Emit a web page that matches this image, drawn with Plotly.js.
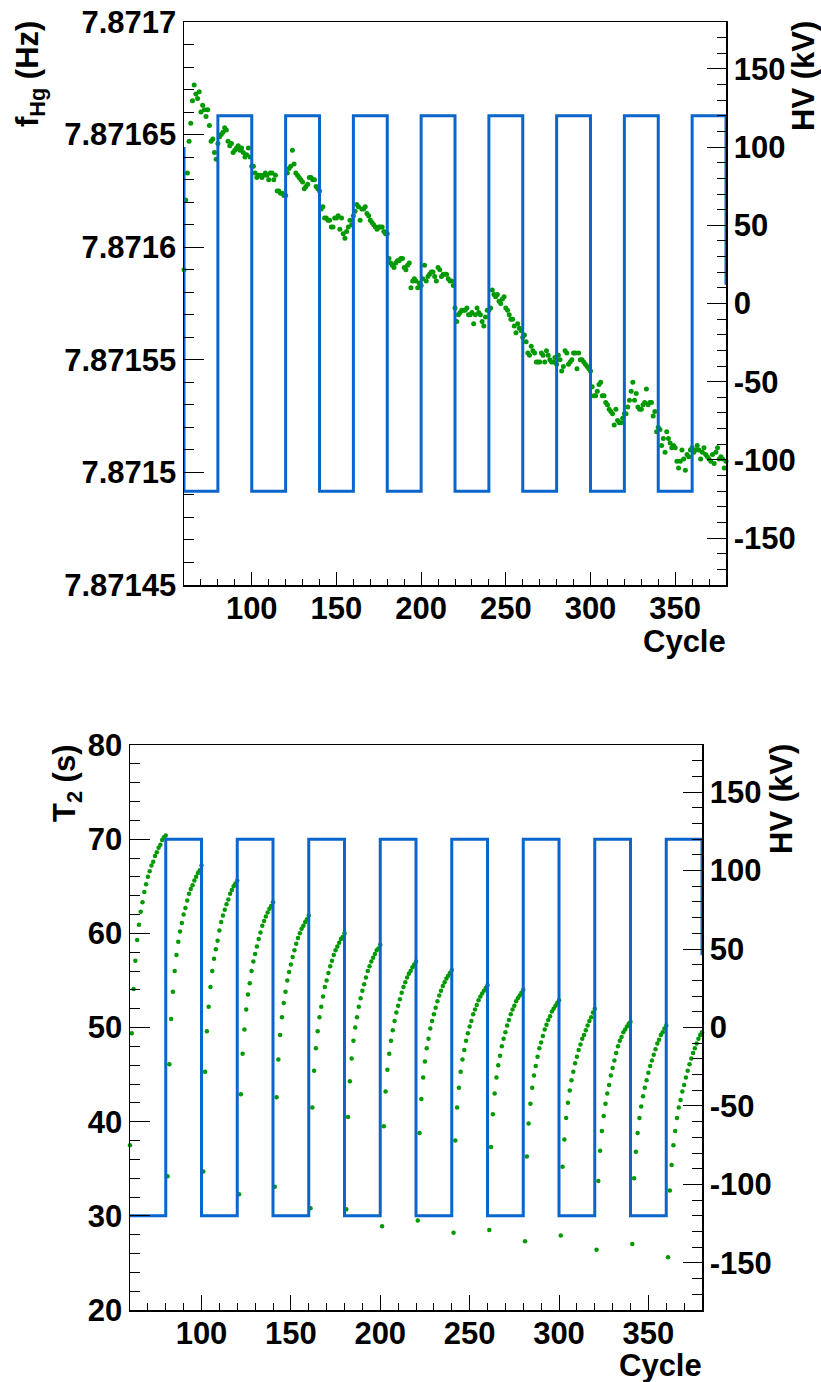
<!DOCTYPE html>
<html>
<head>
<meta charset="utf-8">
<script src="https://cdn.plot.ly/plotly-3.0.1.min.js"></script>
<style>html,body{margin:0;padding:0;background:#fff;}#chart{width:821px;height:1382px;}</style>
</head>
<body>
<div id="chart"></div>
<script>
// ---- data ----
const cycles = [
60,61,62,63,64,65,66,67,68,69,70,71,72,73,74,75,76,77,78,79,80,
81,82,83,84,85,86,87,88,89,90,91,92,93,94,95,96,97,98,99,100,
101,102,103,104,105,106,107,108,109,110,111,112,113,114,115,116,117,118,119,120,
121,122,123,124,125,126,127,128,129,130,131,132,133,134,135,136,137,138,139,140,
141,142,143,144,145,146,147,148,149,150,151,152,153,154,155,156,157,158,159,160,
161,162,163,164,165,166,167,168,169,170,171,172,173,174,175,176,177,178,179,180,
181,182,183,184,185,186,187,188,189,190,191,192,193,194,195,196,197,198,199,200,
201,202,203,204,205,206,207,208,209,210,211,212,213,214,215,216,217,218,219,220,
221,222,223,224,225,226,227,228,229,230,231,232,233,234,235,236,237,238,239,240,
241,242,243,244,245,246,247,248,249,250,251,252,253,254,255,256,257,258,259,260,
261,262,263,264,265,266,267,268,269,270,271,272,273,274,275,276,277,278,279,280,
281,282,283,284,285,286,287,288,289,290,291,292,293,294,295,296,297,298,299,300,
301,302,303,304,305,306,307,308,309,310,311,312,313,314,315,316,317,318,319,320,
321,322,323,324,325,326,327,328,329,330,331,332,333,334,335,336,337,338,339,340,
341,342,343,344,345,346,347,348,349,350,351,352,353,354,355,356,357,358,359,360,
361,362,363,364,365,366,367,368,369,370,371,372,373,374,375,376,377,378,379,380];

const fHg = [
7.871590,7.871621,7.871633,7.871647,7.871655,7.871665,7.871672,7.871668,7.871666,7.871669,
7.871660,7.871663,7.871661,7.871658,7.871661,7.871654,7.871647,7.871648,7.871642,7.871639,
7.871646,7.871649,7.871650,7.871651,7.871653,7.871652,7.871647,7.871645,7.871646,7.871642,
7.871643,7.871644,7.871645,7.871643,7.871644,7.871642,7.871640,7.871641,7.871644,7.871640,
7.871636,7.871636,7.871633,7.871631,7.871632,7.871632,7.871631,7.871632,7.871633,7.871632,
7.871630,7.871633,7.871633,7.871630,7.871632,7.871625,7.871625,7.871624,7.871624,7.871623,
7.871623,7.871633,7.871635,7.871636,7.871643,7.871637,7.871633,7.871632,7.871631,7.871630,
7.871629,7.871626,7.871627,7.871628,7.871631,7.871631,7.871630,7.871630,7.871627,7.871626,
7.871625,7.871617,7.871618,7.871613,7.871613,7.871612,7.871612,7.871609,7.871609,7.871613,
7.871613,7.871614,7.871608,7.871613,7.871606,7.871604,7.871607,7.871609,7.871612,7.871610,
7.871614,7.871616,7.871619,7.871618,7.871612,7.871617,7.871617,7.871618,7.871615,7.871614,
7.871612,7.871611,7.871610,7.871609,7.871608,7.871609,7.871609,7.871609,7.871607,7.871606,
7.871606,7.871595,7.871593,7.871592,7.871591,7.871593,7.871594,7.871594,7.871595,7.871595,
7.871591,7.871590,7.871592,7.871593,7.871582,7.871585,7.871586,7.871585,7.871582,7.871584,
7.871583,7.871586,7.871592,7.871585,7.871587,7.871588,7.871589,7.871589,7.871587,7.871585,
7.871591,7.871590,7.871587,7.871588,7.871588,7.871588,7.871586,7.871585,7.871585,7.871583,
7.871573,7.871567,7.871570,7.871571,7.871572,7.871572,7.871572,7.871573,7.871570,7.871570,
7.871571,7.871566,7.871570,7.871573,7.871571,7.871570,7.871567,7.871565,7.871569,7.871572,
7.871572,7.871573,7.871581,7.871579,7.871578,7.871579,7.871576,7.871575,7.871577,7.871578,
7.871573,7.871572,7.871570,7.871568,7.871568,7.871565,7.871562,7.871566,7.871564,7.871563,
7.871560,7.871561,7.871558,7.871553,7.871552,7.871556,7.871554,7.871553,7.871549,7.871549,
7.871549,7.871553,7.871552,7.871549,7.871554,7.871552,7.871550,7.871549,7.871549,7.871551,
7.871548,7.871552,7.871550,7.871545,7.871547,7.871554,7.871553,7.871548,7.871549,7.871550,
7.871553,7.871553,7.871546,7.871553,7.871550,7.871550,7.871549,7.871548,7.871547,7.871546,
7.871545,7.871538,7.871534,7.871534,7.871536,7.871539,7.871540,7.871534,7.871534,7.871531,
7.871530,7.871528,7.871527,7.871526,7.871521,7.871528,7.871523,7.871522,7.871522,7.871524,
7.871526,7.871526,7.871529,7.871532,7.871536,7.871540,7.871532,7.871535,7.871529,7.871528,
7.871528,7.871530,7.871531,7.871537,7.871530,7.871531,7.871531,7.871525,7.871527,7.871518,
7.871520,7.871519,7.871512,7.871515,7.871509,7.871518,7.871515,7.871513,7.871511,7.871512,
7.871511,7.871505,7.871502,7.871505,7.871510,7.871506,7.871501,7.871508,7.871507,7.871510,
7.871511,7.871509,7.871510,7.871512,7.871510,7.871506,7.871509,7.871511,7.871508,7.871507,
7.871506,7.871505,7.871508,7.871504,7.871509,7.871511,7.871506,7.871507,7.871506,7.871502,
7.871505];

const t2 = [
37.5,49.4,54.1,57.1,59.3,60.9,62.3,63.3,64.4,65.2,
66.0,66.6,67.2,67.6,68.2,68.6,69.1,69.4,69.9,70.2,
70.4,
34.2,46.1,50.9,53.8,56.0,57.7,59.1,60.2,61.1,62.0,
62.7,63.5,64.2,64.7,65.1,65.6,66.0,66.4,66.7,67.2,
34.7,45.3,49.6,52.2,54.3,56.0,57.3,58.3,59.2,60.3,
61.2,61.9,62.5,63.1,63.6,64.2,64.6,65.0,65.3,65.6,
32.3,42.9,47.2,49.8,51.9,53.5,54.7,56.0,57.0,57.8,
58.6,59.4,60.1,60.8,61.3,61.8,62.2,62.6,62.9,63.3,
33.1,42.6,46.6,49.2,51.1,52.6,53.8,55.0,55.9,56.7,
57.5,58.2,58.9,59.5,60.0,60.5,60.8,61.2,61.5,61.9,
30.8,41.5,45.4,47.8,49.6,51.1,52.2,53.3,54.3,55.0,
55.8,56.5,57.1,57.7,58.2,58.6,59.0,59.4,59.6,60.0,
30.7,40.5,44.3,46.7,48.6,50.0,51.1,52.2,53.1,53.9,
54.6,55.3,56.0,56.5,57.0,57.4,57.8,58.2,58.4,58.8,
28.9,39.5,43.2,45.5,47.2,48.6,49.7,50.7,51.6,52.3,
53.0,53.7,54.3,54.8,55.3,55.7,56.0,56.4,56.7,57.0,
29.5,38.8,42.4,44.7,46.4,47.8,48.8,49.9,50.7,51.4,
52.1,52.8,53.4,53.9,54.4,54.8,55.2,55.5,55.8,56.1,
28.2,38.0,41.5,43.6,45.3,46.6,47.6,48.6,49.4,50.1,
50.7,51.4,51.9,52.4,52.9,53.3,53.6,53.9,54.2,54.5,
28.5,37.3,40.8,43.0,44.7,46.0,47.0,48.0,48.8,49.5,
50.2,50.8,51.4,51.9,52.3,52.8,53.1,53.4,53.7,54.0,
27.3,36.3,39.8,41.9,43.6,44.9,45.9,46.9,47.8,48.4,
49.1,49.8,50.3,50.8,51.2,51.7,52.0,52.3,52.6,52.9,
27.9,35.2,38.1,40.4,42.0,43.3,44.4,45.3,46.2,46.9,
47.6,48.2,48.8,49.2,49.7,50.2,50.7,51.1,51.6,52.0,
26.4,33.7,36.9,39.0,40.6,41.9,43.0,43.9,44.9,45.7,
46.5,47.3,48.0,48.6,49.0,49.5,49.8,50.1,50.4,50.6,
27.0,34.0,36.8,38.8,40.4,41.6,42.7,43.6,44.4,45.2,
45.9,46.5,47.1,47.7,48.3,48.7,49.2,49.5,49.9,50.2,
25.6,32.7,35.4,37.5,39.0,40.4,41.5,42.3,43.2,43.9,
44.7,45.4,46.1,46.7,47.3,47.8,48.3,48.8,49.2,49.5];

// HV step curves (value holds from a cycle until the next listed cycle)
const hvTopCycle = [60,60,80,100,120,140,160,180,200,220,240,260,280,300,320,340,360,380];
const hvTopValue = [100,-120,120,-120,120,-120,120,-120,120,-120,120,-120,120,-120,120,-120,120,12];
const hvBotCycle = [60,80,100,120,140,160,180,200,220,240,260,280,300,320,340,360,380];
const hvBotValue = [-120,120,-120,120,-120,120,-120,120,-120,120,-120,120,-120,120,-120,120,46];

// tick labels of the HV axes (plain hyphen minus, as in the original)
const hvTickVals = [-150,-100,-50,0,50,100,150];
const hvTickText = ['-150','-100','-50','0','50','100','150'];

// ---- style ----
const GREEN = '#009a00';
const BLUE = '#0a66cc';
const FONT = 'Liberation Sans, Arial, Helvetica, sans-serif';
const W = 821, H = 1382;
const tf = {family: FONT, size: 31, color: '#000', weight: 'bold'};

function px(v){return v / W;}
function py(v){return 1 - v / H;}

const commonAxis = {
  showgrid: false, zeroline: false, showline: true, linecolor: '#000', linewidth: 1.5,
  ticks: 'inside', tickcolor: '#000', tickwidth: 1, tickfont: tf
};

const traces = [
  {x: cycles, y: fHg, xaxis: 'x', yaxis: 'y', type: 'scatter', mode: 'markers',
   marker: {size: 5, color: GREEN}, cliponaxis: false, hoverinfo: 'skip'},
  {x: hvTopCycle, y: hvTopValue, xaxis: 'x', yaxis: 'y3', type: 'scatter', mode: 'lines',
   line: {shape: 'hv', width: 3, color: BLUE}, hoverinfo: 'skip'},
  {x: cycles, y: t2, xaxis: 'x2', yaxis: 'y2', type: 'scatter', mode: 'markers',
   marker: {size: 4.5, color: GREEN}, cliponaxis: false, hoverinfo: 'skip'},
  {x: hvBotCycle, y: hvBotValue, xaxis: 'x2', yaxis: 'y4', type: 'scatter', mode: 'lines',
   line: {shape: 'hv', width: 3, color: BLUE}, hoverinfo: 'skip'}
];

const layout = {
  width: W, height: H, margin: {l: 0, r: 0, t: 0, b: 0},
  paper_bgcolor: '#fff', plot_bgcolor: 'rgba(0,0,0,0)', showlegend: false,
  font: {family: FONT, size: 31, color: '#000'},
  xaxis: Object.assign({}, commonAxis, {
    domain: [px(184), px(726)], range: [60, 380], anchor: 'y', mirror: true,
    tick0: 0, dtick: 50, ticklen: 13, ticklabelstandoff: -5,
    minor: {dtick: 10, ticks: 'inside', ticklen: 6, tickcolor: '#000', tickwidth: 1, showgrid: false}
  }),
  yaxis: Object.assign({}, commonAxis, {
    domain: [py(585), py(22)], range: [7.87145, 7.8717], anchor: 'x',
    tick0: 7.87145, dtick: 0.00005, tickformat: '.5~f', ticklen: 20, ticklabelstandoff: 0,
    minor: {dtick: 0.00001, ticks: 'inside', ticklen: 10, tickcolor: '#000', tickwidth: 1, showgrid: false}
  }),
  yaxis3: Object.assign({}, commonAxis, {
    overlaying: 'y', side: 'right', anchor: 'x', range: [-180, 180],
    tickmode: 'array', tickvals: hvTickVals, ticktext: hvTickText, ticklen: 19, ticklabelstandoff: 0,
    minor: {tickmode: 'linear', tick0: 0, dtick: 10, ticks: 'inside', ticklen: 9, tickcolor: '#000', tickwidth: 1, showgrid: false}
  }),
  xaxis2: Object.assign({}, commonAxis, {
    domain: [px(130), px(702)], range: [60, 380], anchor: 'y2', mirror: true,
    tick0: 0, dtick: 50, ticklen: 15, ticklabelstandoff: -5,
    minor: {dtick: 10, ticks: 'inside', ticklen: 7, tickcolor: '#000', tickwidth: 1, showgrid: false}
  }),
  yaxis2: Object.assign({}, commonAxis, {
    domain: [py(1310), py(745)], range: [20, 80], anchor: 'x2',
    tick0: 0, dtick: 10, ticklen: 20, ticklabelstandoff: 0,
    minor: {dtick: 2, ticks: 'inside', ticklen: 10, tickcolor: '#000', tickwidth: 1, showgrid: false}
  }),
  yaxis4: Object.assign({}, commonAxis, {
    overlaying: 'y2', side: 'right', anchor: 'x2', range: [-180, 180],
    tickmode: 'array', tickvals: hvTickVals, ticktext: hvTickText, ticklen: 19, ticklabelstandoff: 0,
    minor: {tickmode: 'linear', tick0: 0, dtick: 10, ticks: 'inside', ticklen: 10, tickcolor: '#000', tickwidth: 1, showgrid: false}
  }),
  annotations: [
    {text: 'f<sub>Hg</sub> (Hz)', xref: 'paper', yref: 'paper', x: px(30), y: py(20),
     xanchor: 'center', yanchor: 'top', textangle: -90, showarrow: false, borderpad: 0, font: tf},
    {text: 'HV (kV)', xref: 'paper', yref: 'paper', x: px(803), y: py(20),
     xanchor: 'center', yanchor: 'top', textangle: -90, showarrow: false, borderpad: 0, font: tf},
    {text: 'Cycle', xref: 'paper', yref: 'paper', x: px(727), y: py(641),
     xanchor: 'right', yanchor: 'middle', showarrow: false, borderpad: 0, font: tf},
    {text: 'T<sub>2</sub> (s)', xref: 'paper', yref: 'paper', x: px(67), y: py(743),
     xanchor: 'center', yanchor: 'top', textangle: -90, showarrow: false, borderpad: 0, font: tf},
    {text: 'HV (kV)', xref: 'paper', yref: 'paper', x: px(781), y: py(743),
     xanchor: 'center', yanchor: 'top', textangle: -90, showarrow: false, borderpad: 0, font: tf},
    {text: 'Cycle', xref: 'paper', yref: 'paper', x: px(703), y: py(1365),
     xanchor: 'right', yanchor: 'middle', showarrow: false, borderpad: 0, font: tf}
  ]
};

Plotly.newPlot('chart', traces, layout, {staticPlot: true, displayModeBar: false});
</script>
</body>
</html>
